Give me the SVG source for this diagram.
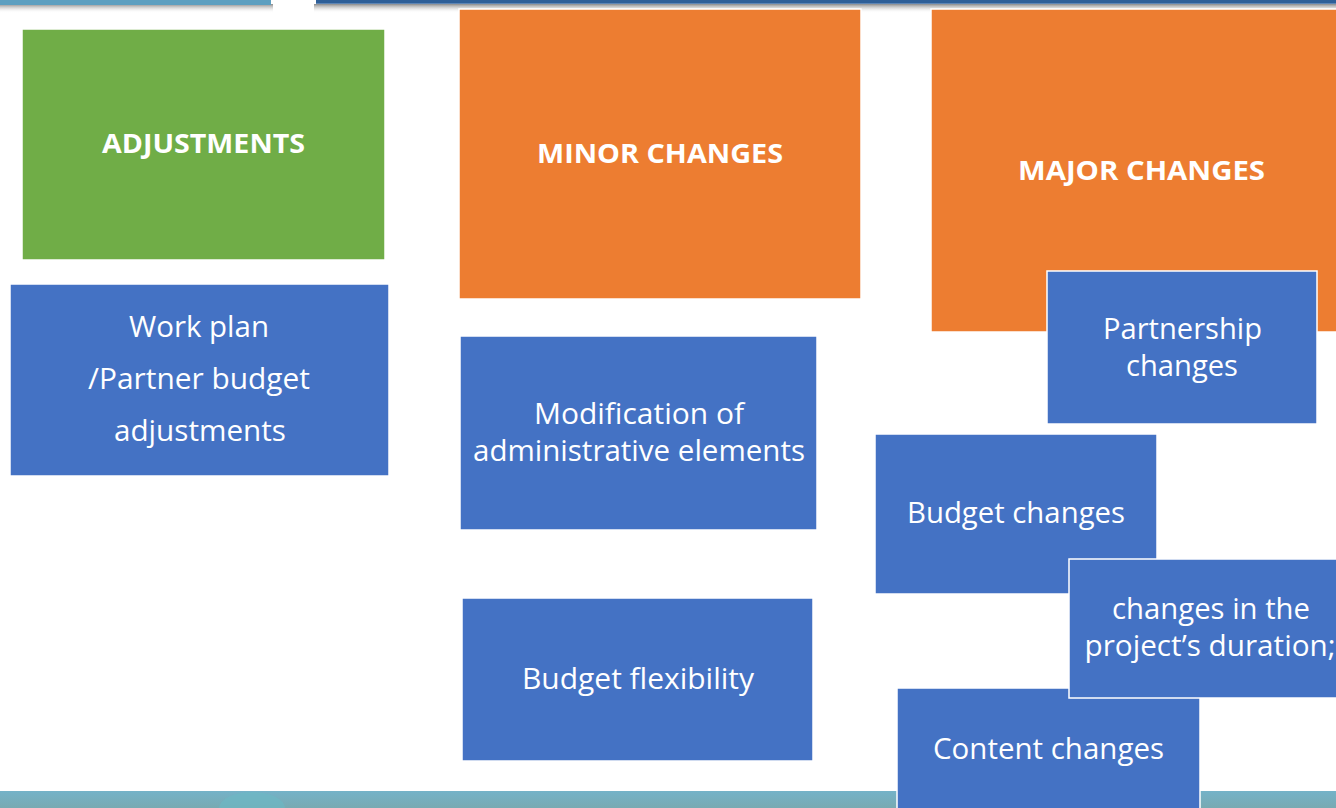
<svg xmlns="http://www.w3.org/2000/svg" width="1336" height="808" viewBox="0 0 1336 808">
  <defs>
    <linearGradient id="shadow" x1="0" y1="0" x2="0" y2="1">
      <stop offset="0" stop-color="#8a8a8a"/>
      <stop offset="1" stop-color="#ffffff" stop-opacity="0"/>
    </linearGradient>
    <linearGradient id="bottomBar" x1="0" y1="0" x2="0" y2="1">
      <stop offset="0" stop-color="#74b2c8"/>
      <stop offset="1" stop-color="#78aab2"/>
    </linearGradient>
    <style>
      .box { stroke: #ffffff; stroke-width: 1.5; }
      .green { fill: #70ad47; }
      .orange { fill: #ed7d31; }
      .blue { fill: #4472c4; }
      .head { font-family: "Open Sans", "Liberation Sans", sans-serif; font-weight: bold; font-size: 27px; fill: #ffffff; text-anchor: middle; }
      .lbl { font-family: "Open Sans", "Liberation Sans", sans-serif; font-size: 29px; fill: #ffffff; text-anchor: middle; }
    </style>
  </defs>

  <rect x="0" y="0" width="1336" height="808" fill="#ffffff"/>

  <!-- decorative bars -->
  <g id="decor">
    <rect x="0" y="4" width="273" height="9" fill="url(#shadow)"/>
    <rect x="0" y="0" width="271" height="5" fill="#5d9fc0"/>
    <rect x="314" y="4" width="1022" height="9" fill="url(#shadow)"/>
    <rect x="316" y="0" width="1020" height="3" fill="#2e5f98"/>
    <rect x="316" y="3" width="1020" height="1" fill="#5f86b5"/>
    <rect x="0" y="791" width="1336" height="17" fill="url(#bottomBar)"/>
    <ellipse cx="252" cy="808" rx="33" ry="16" fill="#6ab9c4" opacity="0.6"/>
  </g>

  <g id="adjustments">
    <rect class="box green" x="22" y="29" width="363" height="231"/>
    <text class="head" x="203.5" y="153" textLength="203" lengthAdjust="spacingAndGlyphs">ADJUSTMENTS</text>
  </g>

  <g id="minor-changes">
    <rect class="box orange" x="459" y="9" width="402" height="290"/>
    <text class="head" x="660" y="163" textLength="246" lengthAdjust="spacingAndGlyphs">MINOR CHANGES</text>
  </g>

  <g id="major-changes">
    <rect class="box orange" x="931" y="9" width="410" height="323"/>
    <text class="head" x="1141.5" y="180" textLength="247" lengthAdjust="spacingAndGlyphs">MAJOR CHANGES</text>
  </g>

  <g id="work-plan">
    <rect class="box blue" x="10" y="284" width="379" height="192"/>
    <text class="lbl" x="199" y="337" textLength="140" lengthAdjust="spacingAndGlyphs">Work plan</text>
    <text class="lbl" x="199" y="389" textLength="222" lengthAdjust="spacingAndGlyphs">/Partner budget</text>
    <text class="lbl" x="200" y="441" textLength="172" lengthAdjust="spacingAndGlyphs">adjustments</text>
  </g>

  <g id="modification">
    <rect class="box blue" x="460" y="336" width="357" height="194"/>
    <text class="lbl" x="639" y="424" textLength="210" lengthAdjust="spacingAndGlyphs">Modification of</text>
    <text class="lbl" x="639" y="461" textLength="332" lengthAdjust="spacingAndGlyphs">administrative elements</text>
  </g>

  <g id="budget-flexibility">
    <rect class="box blue" x="462" y="598" width="351" height="163"/>
    <text class="lbl" x="638" y="689" textLength="232" lengthAdjust="spacingAndGlyphs">Budget flexibility</text>
  </g>

  <g id="partnership-changes">
    <rect class="box blue" x="1047" y="271" width="270" height="153"/>
    <text class="lbl" x="1182.5" y="339" textLength="159" lengthAdjust="spacingAndGlyphs">Partnership</text>
    <text class="lbl" x="1182" y="376" textLength="112" lengthAdjust="spacingAndGlyphs">changes</text>
  </g>

  <g id="budget-changes">
    <rect class="box blue" x="875" y="434" width="282" height="160"/>
    <text class="lbl" x="1016" y="523" textLength="218" lengthAdjust="spacingAndGlyphs">Budget changes</text>
  </g>

  <g id="content-changes">
    <rect class="box blue" x="897" y="688" width="303" height="125"/>
    <text class="lbl" x="1048.5" y="759" textLength="231" lengthAdjust="spacingAndGlyphs">Content changes</text>
  </g>

  <g id="duration-changes">
    <rect class="box blue" x="1069" y="559" width="275" height="139"/>
    <text class="lbl" x="1211" y="619" textLength="198" lengthAdjust="spacingAndGlyphs">changes in the</text>
    <text class="lbl" x="1210" y="656" textLength="251" lengthAdjust="spacingAndGlyphs">project’s duration;</text>
  </g>

  <g id="connectors"></g>
</svg>
